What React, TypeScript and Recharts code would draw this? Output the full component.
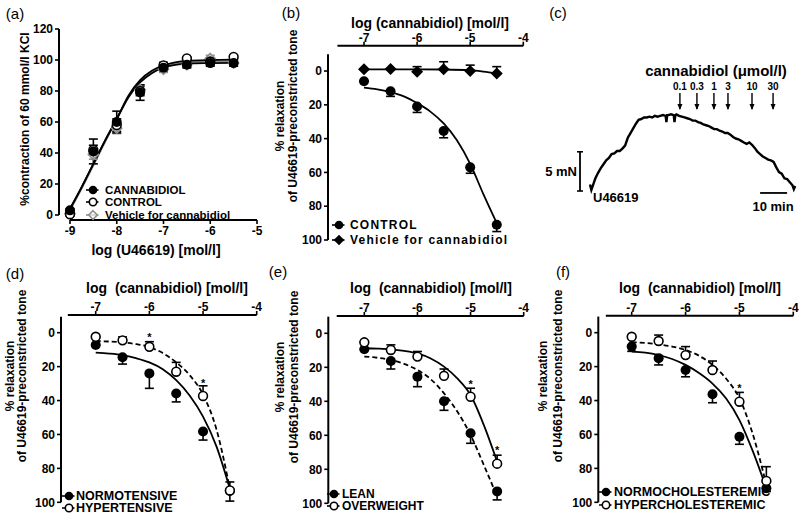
import React from 'react';
import { ComposedChart, Line, Scatter, XAxis, YAxis, ErrorBar, ReferenceLine } from 'recharts';

const FONT = '"Liberation Sans", Arial, Helvetica, sans-serif';
const GREY = '#8f8f8f';

// ---------- Panel (a): contraction to U46619 ----------
const aX = [-9, -8.5, -8, -7.5, -7, -6.5, -6, -5.5];
const aCannabidiol = [3, 41, 60, 79, 95, 97, 98, 98];
const aCannabidiolErr = [1, 8, 7, 5, 2, 2, 2, 2];
const aControl = [0.5, 42, 58, 80, 96.5, 101, 99, 102];
const aControlErr = [1, 3, 4, 3, 2, 1, 2, 1];
const aVehicle = [1, 39, 56, 81, 94, 97, 101, 98];
const aVehicleErr = [1, 3, 3.5, 3, 2, 2, 2, 2];
const aCurveX = [-9, -8.75, -8.5, -8.25, -8, -7.75, -7.5, -7.25, -7, -6.75, -6.5, -6, -5.5];
const aCurveControl = [4, 18, 33, 48, 62, 77, 87, 93, 96.5, 98.5, 99.5, 100, 100.2];
const aCurveCannabidiol = [4, 18, 33, 48, 62, 76, 85.5, 91.5, 95, 96.8, 97.6, 98, 98.2];
const aCurveVehicle = [3, 17, 32, 47, 61.5, 76, 86, 92, 95.5, 97.5, 98.5, 99, 99.2];

// ---------- shared concentrations for relaxation panels ----------
const cbdX = [-7, -6.5, -6, -5.5, -5, -4.5];
const fitX = [-7, -6.75, -6.5, -6.25, -6, -5.75, -5.5, -5.25, -5, -4.75, -4.5];

// ---------- Panel (b) ----------
const bControl = [6, 12, 21, 35.5, 57, 91];
const bControlErr = [0, 3, 3.5, 4, 3.5, 4];
const bVehicle = [-1, -1.2, 0.4, -1, 0, 1.4];
const bVehicleErr = [0, 0, 3, 4.5, 3.5, 4];
const bCurveControl = [9.8, 10.8, 12.5, 15, 19, 24, 31, 41, 55, 73, 90];
const bVehicleFitX = [-7, -6, -5.5, -5, -4.75, -4.5];
const bCurveVehicle = [-1, -1, -0.9, -0.5, 0.3, 1.4];

// ---------- Panel (d) ----------
const dNormo = [7.3, 14.5, 24, 35.8, 58.3, 93.3];
const dNormoErr = [0, 4, 8.8, 5, 5, 6];
const dHyper = [2.4, 4.5, 8.3, 23, 37.3, 93];
const dHyperErr = [0, 2, 3, 5.5, 6, 5];
const dCurveNormo = [11.8, 12.3, 13.2, 15, 17.5, 21.5, 28, 37, 49.5, 67, 92];
const dCurveHyper = [5, 5.2, 5.7, 6.7, 8.5, 12, 17.5, 25, 36.5, 57, 92];
const dStarX = [-6, -5];
const dStarY = [1.4, 28.9];

// ---------- Panel (e) ----------
const eLean = [9.4, 16.3, 25.5, 40, 58.8, 93];
const eLeanErr = [0, 4.7, 5.9, 5.3, 5.9, 5];
const eOver = [5.3, 9.8, 13.7, 25, 37.3, 76.7];
const eOverErr = [0, 3, 3, 4, 5, 5];
const eCurveOver = [8.8, 9, 9.4, 10.3, 11.8, 14.8, 19.6, 26.5, 36.3, 54, 75.5];
const eCurveLean = [13.7, 14.4, 15.7, 18, 21.6, 27, 35.3, 46, 59.8, 77.5, 96];
const eStarX = [-5, -4.5];
const eStarY = [28.8, 67.6];

// ---------- Panel (f) ----------
const fNormo = [8.2, 15, 22, 36.3, 61.3, 91.7];
const fNormoErr = [2.8, 4, 4, 5, 4.5, 2];
const fHyper = [2.4, 4.9, 13.2, 22, 40.7, 87.4];
const fHyperErr = [0, 3.5, 5, 5.3, 5.5, 8.4];
const fCurveNormo = [11.2, 11.8, 13.2, 15.5, 19, 23.8, 30, 38.7, 51.5, 70, 91.7];
const fCurveHyper = [5.7, 6, 6.9, 8.2, 10.2, 13.6, 19, 27, 38.7, 60, 89.8];
const fStarX = [-5];
const fStarY = [31.8];

// ---------- Panel (c): force trace (min, mN) ----------
const traceT = [0, 0.5, 1, 1.5, 2, 3, 4, 5, 6, 7, 8, 9, 10, 11, 12, 13, 14, 15, 16, 17, 18, 19, 20, 21, 22, 23, 24, 25, 26, 27, 28, 28.3, 28.6, 29, 30, 31, 31.3, 31.6, 32, 33, 34, 35, 36, 37, 38, 39, 40, 41, 42, 43, 44, 45, 46, 47, 48, 49, 50, 51, 52, 53, 54, 55, 56, 57, 58, 59, 60, 61, 62, 63, 64, 65, 66, 67, 68, 69, 70, 71, 72, 73, 74, 75, 75.5, 76];
const traceF = [0.7, 0.0, 0.5, 1.0, 1.5, 2.2, 2.8, 3.3, 3.8, 4.1, 4.6, 4.7, 5.0, 5.0, 5.3, 5.7, 6.7, 7.3, 7.9, 8.5, 9.0, 9.1, 9.3, 9.3, 9.4, 9.3, 9.5, 9.4, 9.5, 9.6, 9.5, 8.7, 9.6, 9.6, 9.7, 9.6, 8.7, 9.6, 9.7, 9.5, 9.4, 9.3, 9.2, 9.1, 8.9, 8.9, 8.7, 8.6, 8.4, 8.3, 8.2, 8.0, 7.8, 7.8, 7.6, 7.5, 7.3, 7.3, 7.1, 6.8, 6.6, 6.5, 6.3, 6.1, 5.9, 6.1, 5.8, 5.4, 4.9, 4.6, 4.3, 4.1, 3.9, 3.8, 3.6, 2.9, 2.3, 2.1, 1.5, 1.4, 1.0, 0.6, 0.1, 0.5];
const arrowT = [33.3, 39.6, 45.9, 51.1, 60, 67.8];
const arrowLabels = ['0.1', '0.3', '1', '3', '10', '30'];
const arrowTop = 12.44;

type Pt = { x: number; y: number; e?: number[]; label?: string };

const zip = (xs: number[], ys: number[]): Pt[] => xs.map((x, i) => ({ x, y: ys[i] }));
const withErr = (xs: number[], ys: number[], es: number[], dir: 'both' | 'up' | 'down'): Pt[] =>
  xs.map((x, i) => ({
    x,
    y: ys[i],
    e: dir === 'both' ? [es[i], es[i]] : dir === 'down' ? [0, es[i]] : [es[i], 0],
  }));

function marker(kind: string, cx: number, cy: number, r = 5) {
  switch (kind) {
    case 'fc':
      return <circle cx={cx} cy={cy} r={r} fill="#000" />;
    case 'oc':
      return <circle cx={cx} cy={cy} r={r - 0.6} fill="#fff" stroke="#000" strokeWidth={1.6} />;
    case 'fd':
      return <path d={`M${cx},${cy - r - 1}L${cx + r + 1},${cy}L${cx},${cy + r + 1}L${cx - r - 1},${cy}Z`} fill="#000" />;
    case 'gd':
      return (
        <path
          d={`M${cx},${cy - r}L${cx + r},${cy}L${cx},${cy + r}L${cx - r},${cy}Z`}
          fill="#fff"
          fillOpacity={0.6}
          stroke={GREY}
          strokeWidth={1.6}
        />
      );
    default:
      return <g />;
  }
}

const shapeOf = (kind: string) => (p: any) => {
  if (p == null || p.cx == null || p.cy == null) return <g />;
  return marker(kind, p.cx, p.cy);
};

const starShape = (p: any) => {
  if (p == null || p.cx == null) return <g />;
  return (
    <text x={p.cx} y={p.cy + 5.5} textAnchor="middle" fontSize={11} fontFamily={FONT} fontWeight={700} fill="#000">
      *
    </text>
  );
};

type SeriesDef = { pts: Pt[]; kind: string; errColor?: string };
type CurveDef = { pts: Pt[]; stroke: string; dash?: string };

type PanelProps = {
  box: { left: number; top: number; width: number; height: number };
  plot: { x0: number; x1: number; y0: number; y1: number };
  xDomain: number[];
  yDomain: number[];
  reversed: boolean;
  top: boolean;
  xTicks: number[];
  yTicks: number[];
  ySeg: { x: number; y0: number; y1: number };
  xSeg: { y: number; x0: number; x1: number };
  curves: CurveDef[];
  series: SeriesDef[];
  stars?: Pt[];
};

const tickStyle = { fill: '#000', fontSize: 12, fontWeight: 700, fontFamily: FONT };

function Panel(props: PanelProps) {
  const { box, plot, xDomain, yDomain, reversed, top, xTicks, yTicks, ySeg, xSeg, curves, series, stars } = props;
  const W = 30;
  const H = 20;
  const margin = top
    ? {
        left: plot.x0 - box.left - W,
        right: box.left + box.width - plot.x1,
        top: plot.y0 - box.top - H,
        bottom: box.top + box.height - plot.y1,
      }
    : {
        left: plot.x0 - box.left - W,
        right: box.left + box.width - plot.x1,
        top: plot.y0 - box.top,
        bottom: box.top + box.height - plot.y1 - H,
      };
  return (
    <div style={{ position: 'absolute', left: box.left, top: box.top }}>
      <ComposedChart width={box.width} height={box.height} margin={margin}>
        <XAxis
          type="number"
          dataKey="x"
          domain={xDomain}
          allowDataOverflow
          ticks={xTicks}
          interval={0}
          orientation={top ? 'top' : 'bottom'}
          height={H}
          axisLine={false}
          tickLine={{ stroke: '#000', strokeWidth: 1.6 }}
          tickSize={4}
          tickMargin={top ? 0 : 2}
          tick={tickStyle}
        />
        <YAxis
          type="number"
          dataKey="y"
          domain={yDomain}
          allowDataOverflow
          reversed={reversed}
          ticks={yTicks}
          interval={0}
          width={W}
          axisLine={false}
          tickLine={{ stroke: '#000', strokeWidth: 1.6 }}
          tickSize={4}
          tickMargin={2}
          tick={tickStyle}
        />
        <ReferenceLine
          segment={[
            { x: ySeg.x, y: ySeg.y0 },
            { x: ySeg.x, y: ySeg.y1 },
          ]}
          stroke="#000"
          strokeWidth={2}
          ifOverflow="visible"
        />
        <ReferenceLine
          segment={[
            { x: xSeg.x0, y: xSeg.y },
            { x: xSeg.x1, y: xSeg.y },
          ]}
          stroke="#000"
          strokeWidth={2}
          ifOverflow="visible"
        />
        {curves.map((c, i) => (
          <Line
            key={'c' + i}
            data={c.pts}
            dataKey="y"
            type="monotone"
            stroke={c.stroke}
            strokeWidth={1.8}
            strokeDasharray={c.dash}
            dot={false}
            activeDot={false}
            isAnimationActive={false}
          />
        ))}
        {series.map((s, i) => (
          <Scatter key={'s' + i} data={s.pts} dataKey="y" shape={shapeOf(s.kind)} isAnimationActive={false}>
            <ErrorBar dataKey="e" direction="y" width={4.5} stroke={s.errColor || '#000'} strokeWidth={1.6} />
          </Scatter>
        ))}
        {stars ? <Scatter data={stars} dataKey="y" shape={starShape} isAnimationActive={false} /> : null}
      </ComposedChart>
    </div>
  );
}

function TracePanel() {
  const trace = zip(traceT, traceF);
  const arrows: Pt[] = arrowT.map((t, i) => ({ x: t, y: arrowTop, label: arrowLabels[i] }));
  const arrowShape = (p: any) => {
    if (p == null || p.cx == null) return <g />;
    const { cx, cy } = p;
    const lab = p.payload ? p.payload.label : '';
    return (
      <g>
        <line x1={cx} y1={cy} x2={cx} y2={cy + 16} stroke="#000" strokeWidth={1.4} />
        <path d={`M${cx - 2.5},${cy + 11}L${cx},${cy + 17}L${cx + 2.5},${cy + 11}Z`} fill="#000" />
        <text x={cx} y={cy - 3} textAnchor="middle" fontSize={10} fontWeight={700} fontFamily={FONT} fill="#000">
          {lab}
        </text>
      </g>
    );
  };
  return (
    <div style={{ position: 'absolute', left: 535, top: 0 }}>
      <ComposedChart width={265} height={255} margin={{ left: 38.8, right: 2.1, top: 80.8, bottom: 57.2 }}>
        <XAxis type="number" dataKey="x" domain={[-6, 77]} allowDataOverflow hide width={0} height={0} />
        <YAxis type="number" dataKey="y" domain={[-1, 14]} allowDataOverflow hide width={0} />
        <ReferenceLine segment={[{ x: -3.7, y: -0.13 }, { x: -3.7, y: 4.9 }]} stroke="#000" strokeWidth={1.8} ifOverflow="visible" />
        <ReferenceLine segment={[{ x: -4.8, y: -0.13 }, { x: -2.6, y: -0.13 }]} stroke="#000" strokeWidth={1.6} ifOverflow="visible" />
        <ReferenceLine segment={[{ x: -4.8, y: 4.9 }, { x: -2.6, y: 4.9 }]} stroke="#000" strokeWidth={1.6} ifOverflow="visible" />
        <ReferenceLine segment={[{ x: 63, y: -0.38 }, { x: 73, y: -0.38 }]} stroke="#000" strokeWidth={1.8} ifOverflow="visible" />
        <Line
          data={trace}
          dataKey="y"
          type="linear"
          stroke="#000"
          strokeWidth={2.4}
          dot={false}
          activeDot={false}
          isAnimationActive={false}
        />
        <Scatter data={arrows} dataKey="y" shape={arrowShape} isAnimationActive={false} />
      </ComposedChart>
    </div>
  );
}

type TxtProps = {
  x: number;
  y: number;
  children: React.ReactNode;
  size?: number;
  weight?: number;
  rotate?: boolean;
  anchor?: 'start' | 'middle' | 'end';
  ls?: number;
  lh?: number;
};

function Txt({ x, y, children, size = 12, weight = 700, rotate = false, anchor = 'middle', ls = 0, lh = 1 }: TxtProps) {
  const tx = anchor === 'middle' ? '-50%' : anchor === 'end' ? '-100%' : '0';
  return (
    <div
      style={{
        position: 'absolute',
        left: x,
        top: y,
        transform: `translate(${tx}, -50%)${rotate ? ' rotate(-90deg)' : ''}`,
        fontFamily: FONT,
        fontSize: size,
        fontWeight: weight,
        lineHeight: lh,
        whiteSpace: 'pre',
        letterSpacing: ls,
        color: '#000',
      }}
    >
      {children}
    </div>
  );
}

type LegendRow = { y: number; label: string; kind: string; dash?: string; line?: string };

function LegendRows({ mx, tx, rows, size = 12, ls = 0 }: { mx: number; tx: number; rows: LegendRow[]; size?: number; ls?: number }) {
  return (
    <>
      {rows.map((r, i) => (
        <React.Fragment key={i}>
          <svg style={{ position: 'absolute', left: mx - 8, top: r.y - 7 }} width={14} height={14}>
            <line x1={1} y1={7} x2={13.5} y2={7} stroke={r.line || '#000'} strokeWidth={1.6} strokeDasharray={r.dash} />
            {marker(r.kind, 8, 7, 4.3)}
          </svg>
          <Txt x={tx} y={r.y} anchor="start" size={size} ls={ls} lh={0.88}>
            {r.label}
          </Txt>
        </React.Fragment>
      ))}
    </>
  );
}

export default function App() {
  const yTicksRel = [0, 20, 40, 60, 80, 100];
  const xTicksRel = [-7, -6, -5, -4];
  const DASH = '5 3';

  return (
    <div style={{ position: 'absolute', left: 0, top: 0, width: 800, height: 519, background: '#fff', overflow: 'hidden' }}>
      {/* (a) */}
      <Panel
        box={{ left: 0, top: 0, width: 270, height: 258 }}
        plot={{ x0: 59, x1: 257, y0: 29, y1: 220 }}
        xDomain={[-9.235, -5]}
        yDomain={[-3.226, 120]}
        reversed={false}
        top={false}
        xTicks={[-9, -8, -7, -6, -5]}
        yTicks={[0, 20, 40, 60, 80, 100, 120]}
        ySeg={{ x: -9.235, y0: 0, y1: 120 }}
        xSeg={{ y: -3.226, x0: -9, x1: -5 }}
        curves={[
          { pts: zip(aCurveX, aCurveVehicle), stroke: GREY },
          { pts: zip(aCurveX, aCurveControl), stroke: '#000' },
          { pts: zip(aCurveX, aCurveCannabidiol), stroke: '#000' },
        ]}
        series={[
          { pts: withErr(aX, aVehicle, aVehicleErr, 'both'), kind: 'gd', errColor: GREY },
          { pts: withErr(aX, aControl, aControlErr, 'both'), kind: 'oc' },
          { pts: withErr(aX, aCannabidiol, aCannabidiolErr, 'both'), kind: 'fc' },
        ]}
      />
      <Txt x={15} y={13} size={15} weight={400}>(a)</Txt>
      <Txt x={156} y={250} size={14}>log (U46619) [mol/l]</Txt>
      <Txt x={25} y={119} rotate>%contraction of 60 mmol/l KCl</Txt>
      <LegendRows
        mx={93}
        tx={105}
        size={11.5}
        rows={[
          { y: 189.5, label: 'CANNABIDIOL', kind: 'fc' },
          { y: 202.2, label: 'CONTROL', kind: 'oc' },
          { y: 215, label: 'Vehicle for cannabidiol', kind: 'gd', line: GREY },
        ]}
      />

      {/* (b) */}
      <Panel
        box={{ left: 262, top: 0, width: 270, height: 255 }}
        plot={{ x0: 328, x1: 523.3, y0: 45.7, y1: 240 }}
        xDomain={[-7.678, -4]}
        yDomain={[-15, 100]}
        reversed
        top
        xTicks={xTicksRel}
        yTicks={yTicksRel}
        ySeg={{ x: -7.678, y0: -10, y1: 100 }}
        xSeg={{ y: -15, x0: -7.5, x1: -4 }}
        curves={[
          { pts: zip(fitX, bCurveControl), stroke: '#000' },
          { pts: zip(bVehicleFitX, bCurveVehicle), stroke: '#000' },
        ]}
        series={[
          { pts: withErr(cbdX, bControl, bControlErr, 'down'), kind: 'fc' },
          { pts: withErr(cbdX, bVehicle, bVehicleErr, 'up'), kind: 'fd' },
        ]}
      />
      <Txt x={291} y={12} size={15} weight={400}>(b)</Txt>
      <Txt x={430} y={23} size={14} lh={0.9}>log (cannabidiol) [mol/l]</Txt>
      <Txt x={280} y={116} rotate>% relaxation</Txt>
      <Txt x={293} y={116} rotate>of U46619-preconstricted tone</Txt>
      <LegendRows
        mx={339}
        tx={350}
        ls={1.2}
        rows={[
          { y: 225, label: 'CONTROL', kind: 'fc' },
          { y: 240, label: 'Vehicle for cannabidiol', kind: 'fd' },
        ]}
      />

      {/* (c) */}
      <TracePanel />
      <Txt x={558} y={12} size={15} weight={400}>(c)</Txt>
      <Txt x={716} y={70} size={15}>cannabidiol (μmol/l)</Txt>
      <Txt x={577} y={171} anchor="end" size={13}>5 mN</Txt>
      <Txt x={593} y={197} anchor="start" size={13}>U46619</Txt>
      <Txt x={773} y={206} size={13}>10 min</Txt>

      {/* (d) */}
      <Panel
        box={{ left: 0, top: 258, width: 265, height: 255 }}
        plot={{ x0: 61, x1: 256.7, y0: 315, y1: 502.3 }}
        xDomain={[-7.647, -4]}
        yDomain={[-10.44, 100]}
        reversed
        top
        xTicks={xTicksRel}
        yTicks={yTicksRel}
        ySeg={{ x: -7.647, y0: -9.4, y1: 100 }}
        xSeg={{ y: -10.44, x0: -7.52, x1: -4 }}
        curves={[
          { pts: zip(fitX, dCurveNormo), stroke: '#000' },
          { pts: zip(fitX, dCurveHyper), stroke: '#000', dash: DASH },
        ]}
        series={[
          { pts: withErr(cbdX, dNormo, dNormoErr, 'down'), kind: 'fc' },
          { pts: withErr(cbdX, dHyper, dHyperErr, 'up'), kind: 'oc' },
        ]}
        stars={zip(dStarX, dStarY)}
      />
      <Txt x={15} y={273} size={15} weight={400}>(d)</Txt>
      <Txt x={167} y={288} size={14}>log  (cannabidiol) [mol/l]</Txt>
      <Txt x={9.5} y={376} rotate>% relaxation</Txt>
      <Txt x={22} y={376} rotate>of U46619-preconstricted tone</Txt>
      <LegendRows
        mx={68.5}
        tx={76}
        size={12.5}
        rows={[
          { y: 495.7, label: 'NORMOTENSIVE', kind: 'fc' },
          { y: 508.3, label: 'HYPERTENSIVE', kind: 'oc', dash: '3 2' },
        ]}
      />

      {/* (e) */}
      <Panel
        box={{ left: 268, top: 258, width: 265, height: 255 }}
        plot={{ x0: 328.3, x1: 523.7, y0: 316, y1: 503.3 }}
        xDomain={[-7.678, -4]}
        yDomain={[-10.18, 100]}
        reversed
        top
        xTicks={xTicksRel}
        yTicks={yTicksRel}
        ySeg={{ x: -7.678, y0: -9.8, y1: 100 }}
        xSeg={{ y: -10.18, x0: -7.52, x1: -4 }}
        curves={[
          { pts: zip(fitX, eCurveOver), stroke: '#000' },
          { pts: zip(fitX, eCurveLean), stroke: '#000', dash: DASH },
        ]}
        series={[
          { pts: withErr(cbdX, eLean, eLeanErr, 'down'), kind: 'fc' },
          { pts: withErr(cbdX, eOver, eOverErr, 'up'), kind: 'oc' },
        ]}
        stars={zip(eStarX, eStarY)}
      />
      <Txt x={278} y={271} size={15} weight={400}>(e)</Txt>
      <Txt x={431} y={288} size={14}>log  (cannabidiol) [mol/l]</Txt>
      <Txt x={280} y={377} rotate>% relaxation</Txt>
      <Txt x={294} y={377} rotate>of U46619-preconstricted tone</Txt>
      <LegendRows
        mx={334}
        tx={342}
        size={12}
        rows={[
          { y: 493.8, label: 'LEAN', kind: 'fc', dash: '3 2' },
          { y: 506.3, label: 'OVERWEIGHT', kind: 'oc' },
        ]}
      />

      {/* (f) */}
      <Panel
        box={{ left: 535, top: 258, width: 265, height: 255 }}
        plot={{ x0: 598.3, x1: 793.3, y0: 315.7, y1: 502.3 }}
        xDomain={[-7.62, -4]}
        yDomain={[-10.02, 100]}
        reversed
        top
        xTicks={xTicksRel}
        yTicks={yTicksRel}
        ySeg={{ x: -7.62, y0: -9.5, y1: 100 }}
        xSeg={{ y: -10.02, x0: -7.48, x1: -4 }}
        curves={[
          { pts: zip(fitX, fCurveNormo), stroke: '#000' },
          { pts: zip(fitX, fCurveHyper), stroke: '#000', dash: DASH },
        ]}
        series={[
          { pts: withErr(cbdX, fNormo, fNormoErr, 'down'), kind: 'fc' },
          { pts: withErr(cbdX, fHyper, fHyperErr, 'up'), kind: 'oc' },
        ]}
        stars={zip(fStarX, fStarY)}
      />
      <Txt x={563} y={271} size={15} weight={400}>(f)</Txt>
      <Txt x={700} y={288} size={14}>log  (cannabidiol) [mol/l]</Txt>
      <Txt x={543} y={376} rotate>% relaxation</Txt>
      <Txt x={558} y={376} rotate>of U46619-preconstricted tone</Txt>
      <LegendRows
        mx={606}
        tx={614}
        size={12.5}
        rows={[
          { y: 492.3, label: 'NORMOCHOLESTEREMIC', kind: 'fc' },
          { y: 505, label: 'HYPERCHOLESTEREMIC', kind: 'oc', dash: '3 2' },
        ]}
      />
    </div>
  );
}
